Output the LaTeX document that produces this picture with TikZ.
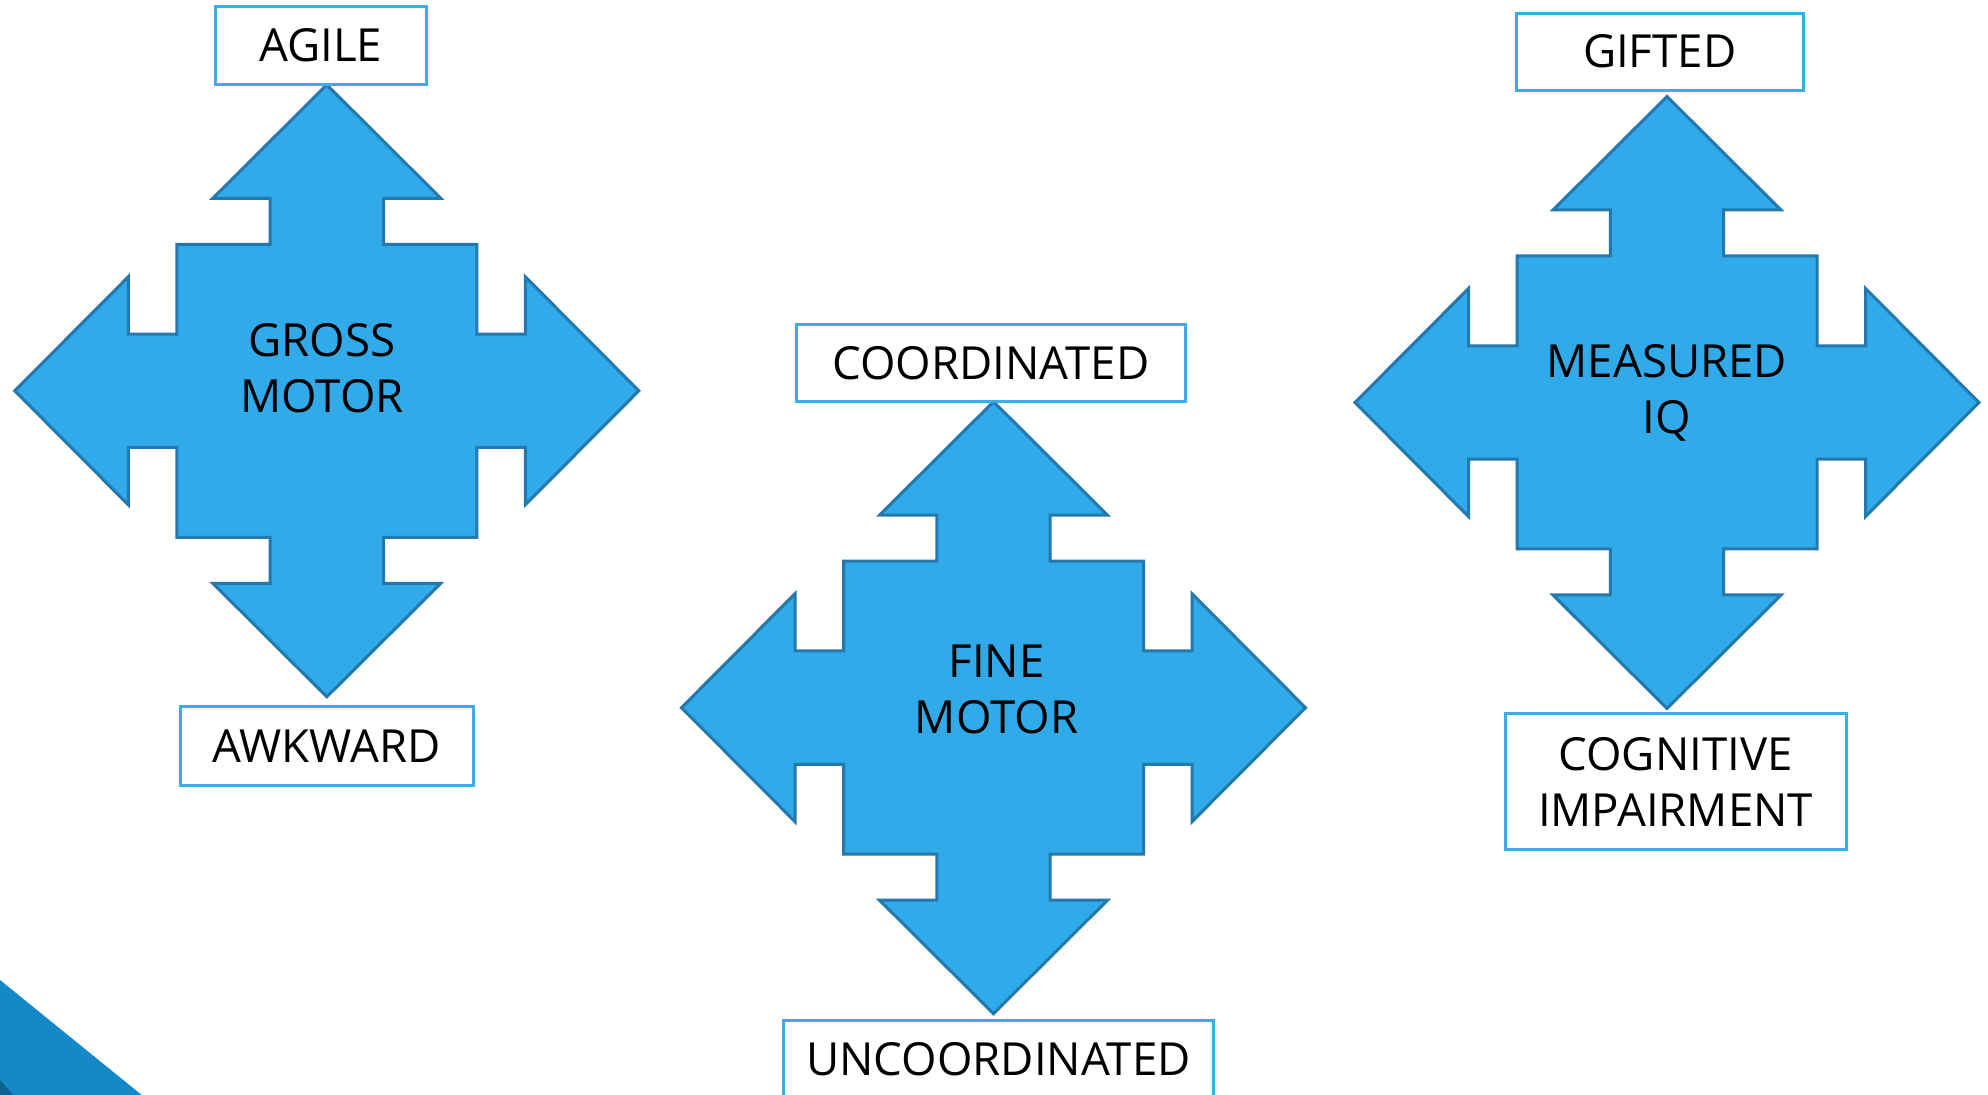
\documentclass[tikz,border=0pt]{standalone}
\usepackage{fontspec}
\setmainfont{Open Sans}
\definecolor{arrowfill}{HTML}{31AAE9}
\definecolor{arrowline}{HTML}{2378AE}
\definecolor{boxline}{HTML}{3AAEE8}
\definecolor{cornerblue}{HTML}{1589C8}
\definecolor{cornerdark}{HTML}{0F5F8F}
\tikzset{
  quadarrow/.style={fill=arrowfill, draw=arrowline, line width=1.5pt, line join=miter},
  labelbox/.style={draw=boxline, line width=1.5pt, fill=white, inner sep=0pt, align=center,
    font=\fontsize{22.8}{28}\selectfont},
  centertext/.style={inner sep=0pt, align=center, font=\fontsize{22.8}{28}\selectfont}
}
\newcommand\quadcallout[2]{%
  \draw[quadarrow, shift={(#1,#2)}]
    (0,-306) -- (114,-192.5) -- (56.7,-192.5) -- (56.7,-146.5) -- (150,-146.5)
    -- (150,-56.7) -- (198.5,-56.7) -- (198.5,-114) -- (312,0)
    -- (198.5,114) -- (198.5,56.7) -- (150,56.7) -- (150,146.5)
    -- (56.7,146.5) -- (56.7,192.5) -- (114,192.5) -- (0,306)
    -- (-114,192.5) -- (-56.7,192.5) -- (-56.7,146.5) -- (-150,146.5)
    -- (-150,56.7) -- (-198.5,56.7) -- (-198.5,114) -- (-312,0)
    -- (-198.5,-114) -- (-198.5,-56.7) -- (-150,-56.7) -- (-150,-146.5)
    -- (-56.7,-146.5) -- (-56.7,-192.5) -- (-114,-192.5) -- cycle;}
\begin{document}
\begin{tikzpicture}[x=0.5pt, y=-0.5pt]
\useasboundingbox (0,0) rectangle (1988,1095);
\clip (0,0) rectangle (1988,1095);
\fill[white] (0,0) rectangle (1988,1095);
% corner decoration
\fill[cornerblue] (0,980) -- (141.7,1095) -- (0,1095) -- cycle;
\fill[cornerdark] (0,1080) -- (13.3,1095) -- (0,1095) -- cycle;
% arrows
\quadcallout{326.8}{390.8}
\quadcallout{993.5}{707.7}
\quadcallout{1667}{402.5}
% centre labels
\node[centertext] (gross) at (322,368.5) {GROSS\\MOTOR};
\node[centertext] (fine) at (996.6,689) {FINE\\MOTOR};
\node[centertext] (measured) at (1667,393) {MEASURED\\IQ};
% boxes
\node[labelbox, minimum width={210.5*0.5pt}, minimum height={78*0.5pt}] (agile) at (320.8,45.2) {\raisebox{-0.75pt}{AGILE}};
\node[labelbox, minimum width={293*0.5pt}, minimum height={79.3*0.5pt}] (awkward) at (326.5,746.3) {\raisebox{-0.75pt}{AWKWARD}};
\node[labelbox, minimum width={389.5*0.5pt}, minimum height={77.7*0.5pt}] (coord) at (990.8,362.9) {\raisebox{-0.75pt}{COORDINATED}};
\node[labelbox, minimum width={429.8*0.5pt}, minimum height={78*0.5pt}] (uncoord) at (998.5,1059.5) {\raisebox{-0.75pt}{UNCOORDINATED}};
\node[labelbox, minimum width={286.6*0.5pt}, minimum height={76.7*0.5pt}] (gifted) at (1659.7,51.7) {\raisebox{-0.75pt}{GIFTED}};
\node[labelbox, minimum width={341*0.5pt}, minimum height={135.7*0.5pt}, text depth=0pt] (cognitive) at (1675.5,781.7) {COGNITIVE\\IMPAIRMENT};
\end{tikzpicture}
\end{document}
